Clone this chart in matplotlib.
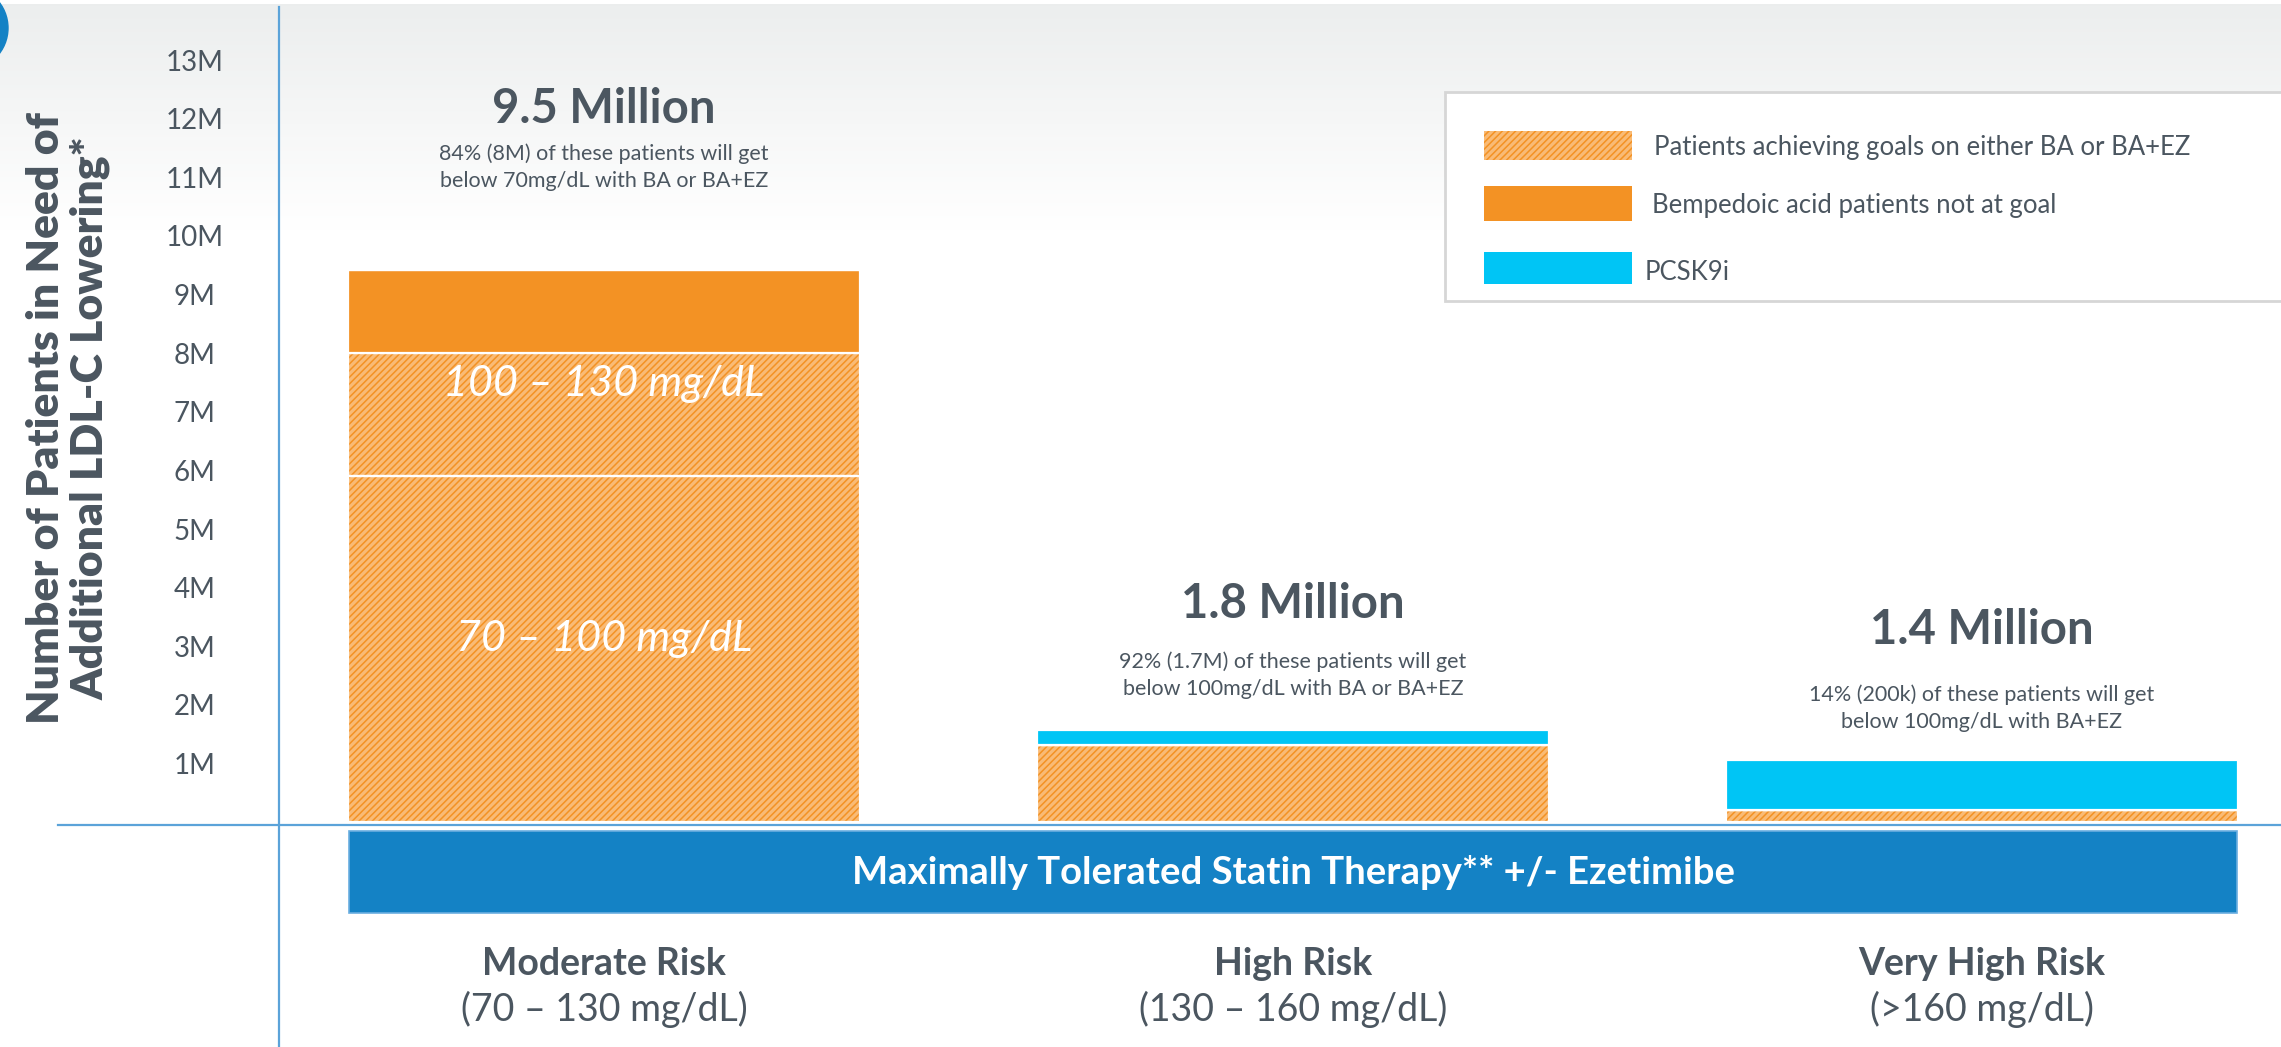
import numpy as np
import matplotlib.pyplot as plt
from matplotlib.patches import Rectangle, Circle

W, H = 2281, 1047
DPI = 100

plt.rcParams['font.family'] = ['Lato', 'DejaVu Sans']
plt.rcParams['hatch.linewidth'] = 1.1

# ---- data (millions of patients) ----
risk_groups = ['Moderate Risk', 'High Risk', 'Very High Risk']
risk_ranges = ['(70 – 130 mg/dL)', '(130 – 160 mg/dL)', '(>160 mg/dL)']
totals = ['9.5 Million', '1.8 Million', '1.4 Million']
notes = ['84% (8M) of these patients will get\nbelow 70mg/dL with BA or BA+EZ',
         '92% (1.7M) of these patients will get\nbelow 100mg/dL with BA or BA+EZ',
         '14% (200k) of these patients will get\nbelow 100mg/dL with BA+EZ']

goal_low = [5.9, 1.31, 0.2]      # hatched, bottom segment
goal_high = [2.1, 0.0, 0.0]      # hatched, second segment
not_at_goal = [1.42, 0.0, 0.0]   # solid orange
pcsk9i = [0.0, 0.26, 0.86]       # cyan
segment_labels = ['70 – 100 mg/dL', '100 – 130 mg/dL']

yticks = list(range(1, 14))
ytick_labels = [f'{v}M' for v in yticks]

legend_labels = ['Patients achieving goals on either BA or BA+EZ',
                 'Bempedoic acid patients not at goal',
                 'PCSK9i']

# ---- colours ----
ORANGE = '#f39224'
LIGHT_ORANGE = '#f9bb76'
CYAN = '#00c5f5'
BAND = '#1482c5'
AXLINE = '#5ba3d9'
TEXT = '#4b5660'

fig = plt.figure(figsize=(W / DPI, H / DPI), dpi=DPI)

# overlay axes in pixel coordinates for the decorations
ov = fig.add_axes([0, 0, 1, 1], zorder=0)
ov.set_xlim(0, W)
ov.set_ylim(H, 0)
ov.axis('off')

grad = np.linspace(0, 1, 256).reshape(-1, 1)
top_c = np.array([0.925, 0.933, 0.933])
img = top_c + (1 - top_c) * grad[..., None]
ov.imshow(img, extent=(0, W, 230, 4), aspect='auto', zorder=0)
ov.add_patch(Circle((-34, 28), 42, color=BAND, zorder=1))

ov.plot([279, 279], [7, H], color=AXLINE, lw=1.6, zorder=1)
ov.plot([58, W], [825, 825], color=AXLINE, lw=1.6, zorder=1)

# statin band
ov.add_patch(Rectangle((349, 831), 2237 - 349, 82, facecolor=BAND,
                       edgecolor='#6aaee0', lw=1.2, zorder=2))
ov.text((349 + 2237) / 2, 873, 'Maximally Tolerated Statin Therapy** +/- Ezetimibe',
        color='white', fontsize=27.5, fontweight='bold', ha='center', va='center', zorder=3)

# y label
ov.text(68, 418, 'Number of Patients in Need of\nAdditional LDL-C Lowering*',
        rotation=90, ha='center', va='center', multialignment='center',
        fontsize=32, fontweight='heavy', color=TEXT, linespacing=1.12)

# legend
ov.add_patch(Rectangle((1445, 92), 900, 209, facecolor='white',
                       edgecolor='#d6d6d6', lw=2, zorder=2))
leg_y = [(131, 160, 147), (186, 221, 205), (252, 284, 272)]
leg_style = [dict(facecolor=LIGHT_ORANGE, hatch='/////', edgecolor=ORANGE, lw=0),
             dict(facecolor=ORANGE, edgecolor='none'),
             dict(facecolor=CYAN, edgecolor='none')]
leg_tx = [1654, 1652, 1645]
for (y0, y1, yt), st, lab, tx in zip(leg_y, leg_style, legend_labels, leg_tx):
    ov.add_patch(Rectangle((1484, y0), 148, y1 - y0, zorder=3, **st))
    ov.text(tx, yt, lab, fontsize=18.5, color=TEXT, va='center', ha='left', zorder=3)

# bottom category labels
for i, (g, r) in enumerate(zip(risk_groups, risk_ranges)):
    cx = 604 + 689 * i
    ov.text(cx, 964, g, fontsize=27, fontweight='bold', color=TEXT, ha='center', va='center')
    ov.text(cx, 1009, r, fontsize=27, color=TEXT, ha='center', va='center')

# ---- main bar axes ----
px_per_m = 58.6
zero_px = 822
top_val = (zero_px - 7) / px_per_m
bot_val = (zero_px - 825) / px_per_m
ax = fig.add_axes([279 / W, (H - 825) / H, 1 - 279 / W, (825 - 7) / H], zorder=1)
ax.patch.set_alpha(0)
ax.set_ylim(bot_val, top_val)
ax.set_xlim((279 - 604) / 689, (W - 604) / 689)
for s in ax.spines.values():
    s.set_visible(False)
ax.set_xticks([])
ax.set_yticks(yticks)
ax.set_yticklabels(ytick_labels, fontsize=20, color=TEXT)
ax.tick_params(axis='y', length=0, pad=61)
for lab in ax.get_yticklabels():
    lab.set_horizontalalignment('center')

x = np.arange(len(risk_groups))
bw = 0.743


def hatched(bottom, height):
    ax.bar(x, height, bw, bottom=bottom, color=LIGHT_ORANGE, lw=0, zorder=2)
    ax.bar(x, height, bw, bottom=bottom, facecolor='none', edgecolor=ORANGE,
           lw=0, hatch='/////', zorder=3)
    ax.bar(x, height, bw, bottom=bottom, facecolor='none', edgecolor='white',
           lw=1.6, zorder=4)


b = np.zeros(3)
hatched(b, goal_low)
b = b + goal_low
hatched(b, goal_high)
b = b + goal_high
ax.bar(x, not_at_goal, bw, bottom=b, color=ORANGE, edgecolor='white', lw=1.6, zorder=4)
b = b + not_at_goal
ax.bar(x, pcsk9i, bw, bottom=b, color=CYAN, edgecolor='white', lw=1.6, zorder=4)
b = b + pcsk9i

# labels inside first bar
ax.text(0, goal_low[0] * 0.53, segment_labels[0], fontsize=31, style='italic',
        color='white', ha='center', va='center', zorder=5)
ax.text(0, goal_low[0] + goal_high[0] * 0.75, segment_labels[1], fontsize=31,
        style='italic', color='white', ha='center', va='center', zorder=5)

# totals and notes above bars
title_px = [109, 604, 630]
note_px = [167, 675, 708]
for i in range(3):
    ax.text(i, (zero_px - title_px[i]) / px_per_m, totals[i], fontsize=34,
            fontweight='bold', color=TEXT, ha='center', va='center')
    ax.text(i, (zero_px - note_px[i]) / px_per_m, notes[i], fontsize=15.5,
            color=TEXT, ha='center', va='center', linespacing=1.45)

fig.savefig('out.png', dpi=DPI)
